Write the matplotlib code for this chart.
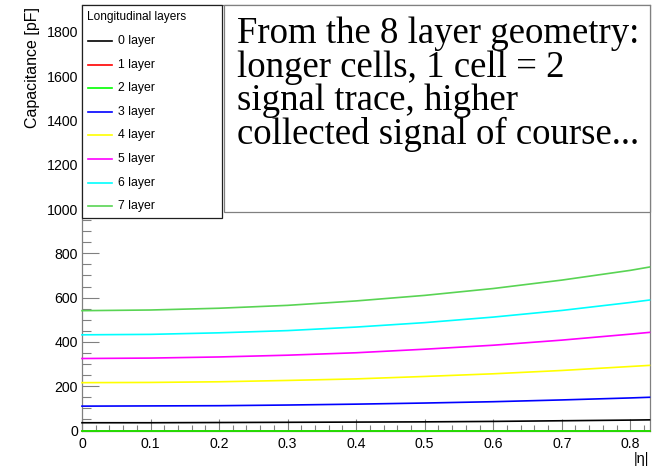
import matplotlib
matplotlib.use("Agg")
import matplotlib.pyplot as plt
from matplotlib.patches import Rectangle
from matplotlib.lines import Line2D
from matplotlib.ticker import MultipleLocator

# |eta| sampling points and capacitance per longitudinal layer [pF]
eta = [0.0, 0.1, 0.2, 0.3, 0.4, 0.5, 0.6, 0.7, 0.8, 0.828]
cap_layer0 = [35, 35, 36, 37, 38, 39, 41, 44, 47, 48]
cap_layer1 = [0, 0, 0, 0, 0, 0, 0, 0, 0, 0]
cap_layer2 = [0, 0, 0, 0, 0, 0, 0, 0, 0, 0]
cap_layer3 = [110, 111, 112, 115, 119, 124, 130, 138, 147, 150]
cap_layer4 = [216, 217, 220, 226, 233, 244, 256, 271, 289, 294]
cap_layer5 = [325, 327, 332, 340, 351, 367, 385, 408, 435, 443]
cap_layer6 = [432, 434, 441, 451, 467, 487, 512, 542, 578, 589]
cap_layer7 = [541, 544, 552, 565, 585, 610, 641, 679, 723, 738]

layer_labels = ["0 layer", "1 layer", "2 layer", "3 layer",
                "4 layer", "5 layer", "6 layer", "7 layer"]
layer_colors = ["#000000", "#ff0000", "#00ff00", "#0000ff",
                "#ffff00", "#ff00ff", "#00ffff", "#59d454"]
legend_title = "Longitudinal layers"
note_lines = ["From the 8 layer geometry:",
              "longer cells, 1 cell = 2",
              "signal trace, higher",
              "collected signal of course..."]

curves = [cap_layer0, cap_layer1, cap_layer2, cap_layer3,
          cap_layer4, cap_layer5, cap_layer6, cap_layer7]

W, H = 660, 467
SANS = ["Liberation Sans", "DejaVu Sans"]
SERIF = ["Liberation Serif", "DejaVu Serif"]


def fx(px):
    return px / W


def fy(py):
    return 1 - py / H


fig = plt.figure(figsize=(W / 100, H / 100), dpi=100)
fig.patch.set_facecolor("white")

left, right, top, bottom = 82, 649.5, 5, 430.5
ax = fig.add_axes([fx(left), fy(bottom), fx(right - left), (bottom - top) / H])

for vals, col in zip(curves, layer_colors):
    ax.plot(eta, vals, color=col, lw=1.2, clip_on=False, zorder=3)

ax.set_xlim(0, 0.828)
ax.set_ylim(0, 1921)

grey = "#808080"
for sp in ax.spines.values():
    sp.set_color(grey)
    sp.set_linewidth(0.9)

ax.xaxis.set_major_locator(MultipleLocator(0.1))
ax.xaxis.set_minor_locator(MultipleLocator(0.02))
ax.yaxis.set_major_locator(MultipleLocator(200))
ax.yaxis.set_minor_locator(MultipleLocator(50))

ax.tick_params(axis="x", which="major", direction="in", length=8.6, width=0.8,
               color=grey, pad=5.0)
ax.tick_params(axis="x", which="minor", direction="in", length=4.3, width=0.8,
               color=grey)
ax.tick_params(axis="y", which="major", direction="in", length=12.2, width=0.8,
               color=grey, pad=3.0)
ax.tick_params(axis="y", which="minor", direction="in", length=6.3, width=0.8,
               color=grey)
ax.tick_params(top=False, right=False, which="both")

ax.xaxis.set_major_formatter(plt.FuncFormatter(lambda v, p: "0" if abs(v) < 1e-9 else f"{v:.1f}"))
for lab in ax.get_xticklabels() + ax.get_yticklabels():
    lab.set_fontfamily(SANS)
    lab.set_fontsize(10.2)

# axis titles
fig.text(fx(32), fy(7), "Capacitance [pF]", rotation=90, ha="center", va="top",
         fontsize=11.5, family=SANS)
fig.text(fx(649), fy(466), "|η|", ha="right", va="bottom",
         fontsize=10.5, family=SANS)

# legend box
fig.add_artist(Rectangle((fx(82), fy(218)), fx(222 - 82), (218 - 5) / H,
                         transform=fig.transFigure, facecolor="white",
                         edgecolor="#202020", lw=0.9, zorder=5))
fig.text(fx(87), fy(17), legend_title, ha="left", va="center",
         fontsize=8.6, family=SANS, zorder=6)
for i, (lab, col) in enumerate(zip(layer_labels, layer_colors)):
    yy = 41 + i * 23.6
    fig.add_artist(Line2D([fx(88), fx(112)], [fy(yy), fy(yy)],
                          transform=fig.transFigure, color=col, lw=1.2, zorder=6))
    fig.text(fx(118), fy(yy), lab, ha="left", va="center",
             fontsize=8.8, family=SANS, zorder=6)

# note box
fig.add_artist(Rectangle((fx(224), fy(212)), fx(649.5 - 224), (212 - 5) / H,
                         transform=fig.transFigure, facecolor="white",
                         edgecolor=grey, lw=0.9, zorder=5))
for i, line in enumerate(note_lines):
    fig.text(fx(237), fy(43.3 + i * 33.4), line, ha="left", va="baseline",
             fontsize=26.5, family=SERIF, zorder=6)

fig.savefig("out.png", dpi=100, facecolor="white")
